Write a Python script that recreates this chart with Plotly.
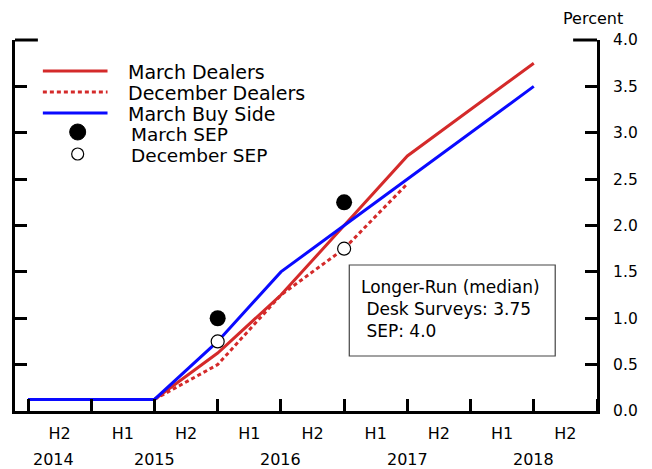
import plotly.graph_objects as go

# ---- data ----
x_march_dealers = [2014.5, 2015.0, 2015.5, 2016.0, 2016.5, 2017.0, 2017.5, 2018.0, 2018.5]
y_march_dealers = [0.125, 0.125, 0.125, 0.625, 1.25, 2.0, 2.75, 3.25, 3.75]

x_dec_dealers = [2015.5, 2016.0, 2016.5, 2017.0, 2017.5]
y_dec_dealers = [0.125, 0.5, 1.25, 1.75, 2.45]

x_buy_side = [2014.5, 2015.0, 2015.5, 2016.0, 2016.5, 2017.0, 2017.5, 2018.0, 2018.5]
y_buy_side = [0.125, 0.125, 0.125, 0.75, 1.5, 2.0, 2.5, 3.0, 3.5]

x_march_sep = [2016.0, 2017.0]
y_march_sep = [1.0, 2.25]

x_dec_sep = [2016.0, 2017.0]
y_dec_sep = [0.75, 1.75]

half_label_pos = [2014.75, 2015.25, 2015.75, 2016.25, 2016.75, 2017.25, 2017.75, 2018.25, 2018.75]
half_labels = ["H2", "H1", "H2", "H1", "H2", "H1", "H2", "H1", "H2"]
year_pos = [2014.7, 2015.5, 2016.5, 2017.5, 2018.5]
year_labels = ["2014", "2015", "2016", "2017", "2018"]
y_ticks = [0, 0.5, 1, 1.5, 2, 2.5, 3, 3.5, 4]

RED = "#d42a2a"
BLUE = "#0a0aff"
FONT = "DejaVu Sans, Liberation Sans, Arial, sans-serif"

fig = go.Figure()
fig.add_trace(go.Scatter(x=x_march_dealers, y=y_march_dealers, mode="lines",
                         line=dict(color=RED, width=3), name="March Dealers"))
fig.add_trace(go.Scatter(x=x_dec_dealers, y=y_dec_dealers, mode="lines",
                         line=dict(color=RED, width=3, dash="4px,3px"), name="December Dealers"))
fig.add_trace(go.Scatter(x=x_buy_side, y=y_buy_side, mode="lines",
                         line=dict(color=BLUE, width=3), name="March Buy Side"))
fig.add_trace(go.Scatter(x=x_march_sep, y=y_march_sep, mode="markers",
                         marker=dict(color="black", size=16), name="March SEP"))
fig.add_trace(go.Scatter(x=x_dec_sep, y=y_dec_sep, mode="markers",
                         marker=dict(color="white", size=13, line=dict(color="black", width=1.2)),
                         name="December SEP"))

L, R, T, B = 12, 55, 40, 58
W, H = 652, 469
pw, ph = W - L - R, H - T - B

def px(xp):
    return (xp - L) / pw

def py(yp):
    return (H - B - yp) / ph

shapes = []
annotations = []
# manual legend
legend_rows = [("March Dealers", 71, "solid"), ("December Dealers", 92, "4px,3px"), ("March Buy Side", 113, "solid")]
colors = [RED, RED, BLUE]
for (name, yy, dash), c in zip(legend_rows, colors):
    shapes.append(dict(type="line", xref="paper", yref="paper", x0=px(40), x1=px(105),
                       y0=py(yy), y1=py(yy), line=dict(color=c, width=3, dash=dash)))
    annotations.append(dict(text=name, xref="paper", yref="paper", x=px(124), y=py(yy + 1),
                            xanchor="left", yanchor="middle", showarrow=False,
                            font=dict(size=19, color="black", family=FONT)))
# SEP legend markers
shapes.append(dict(type="circle", xref="paper", yref="paper", xsizemode="pixel", ysizemode="pixel",
                   xanchor=px(75), yanchor=py(132), x0=-8, x1=8, y0=-8, y1=8,
                   fillcolor="black", line=dict(color="black", width=1)))
shapes.append(dict(type="circle", xref="paper", yref="paper", xsizemode="pixel", ysizemode="pixel",
                   xanchor=px(75), yanchor=py(154), x0=-6, x1=6, y0=-6, y1=6,
                   fillcolor="white", line=dict(color="black", width=1.2)))
annotations.append(dict(text="March SEP", xref="paper", yref="paper", x=px(127), y=py(134),
                        xanchor="left", yanchor="middle", showarrow=False,
                        font=dict(size=18.5, color="black", family=FONT)))
annotations.append(dict(text="December SEP", xref="paper", yref="paper", x=px(127), y=py(155),
                        xanchor="left", yanchor="middle", showarrow=False,
                        font=dict(size=18.5, color="black", family=FONT)))

# longer-run box
shapes.append(dict(type="rect", xref="paper", yref="paper", x0=px(348), x1=px(555),
                   y0=py(356), y1=py(265), line=dict(color="#444", width=1.2), fillcolor="white"))
annotations.append(dict(text="Longer-Run (median)<br>&nbsp;Desk Surveys: 3.75<br>&nbsp;SEP: 4.0",
                        xref="paper", yref="paper", x=px(358), y=py(309),
                        xanchor="left", yanchor="middle", align="left", showarrow=False,
                        font=dict(size=17, color="black", family=FONT)))

# top spurs
shapes.append(dict(type="line", xref="paper", yref="paper", x0=px(12), x1=px(35), y0=1, y1=1,
                   line=dict(color="black", width=3)))
shapes.append(dict(type="line", xref="paper", yref="paper", x0=px(573), x1=px(597), y0=1, y1=1,
                   line=dict(color="black", width=3)))

# year labels
for xv, lab in zip(year_pos, year_labels):
    annotations.append(dict(text=lab, xref="x", yref="paper", x=xv, y=py(459),
                            xanchor="center", yanchor="middle", showarrow=False,
                            font=dict(size=16, color="black", family=FONT)))
annotations.append(dict(text="Percent", xref="paper", yref="paper", x=px(593), y=py(18),
                        xanchor="center", yanchor="middle", showarrow=False,
                        font=dict(size=16, color="black", family=FONT)))

fig.update_layout(
    width=W, height=H,
    margin=dict(l=L, r=R, t=T, b=B),
    plot_bgcolor="white", paper_bgcolor="white",
    showlegend=False,
    font=dict(family=FONT, size=16, color="black"),
    shapes=shapes, annotations=annotations,
    xaxis=dict(range=[2014.397, 2019.0], tickmode="array", tickvals=half_label_pos,
               ticktext=half_labels, ticks="", showgrid=False, zeroline=False,
               showline=True, linecolor="black", linewidth=3,
               ticklabelstandoff=6,
               minor=dict(tickmode="linear", tick0=2014.5, dtick=0.5, ticks="inside",
                          ticklen=12, tickwidth=3, tickcolor="black", showgrid=False)),
    yaxis=dict(range=[0, 4.0], side="right", tickmode="array", tickvals=y_ticks,
               tickformat=".1f", ticks="inside", ticklen=12, tickwidth=3, tickcolor="black",
               tickfont=dict(size=15.5),
               showgrid=False, zeroline=False, showline=True, linecolor="black", linewidth=3,
               mirror="ticks", ticklabelstandoff=10),
)

fig.write_html("out.html", config={"displayModeBar": False},
               post_script="document.body.style.margin='0';")
